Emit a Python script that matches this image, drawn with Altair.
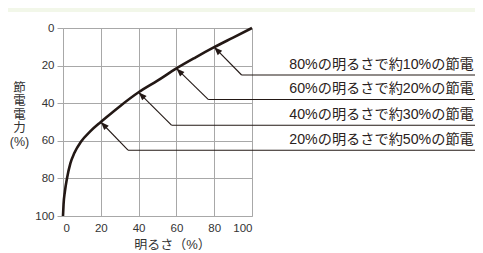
import math
import altair as alt
import pandas as pd

# curve: brightness (%) vs. power saving (%)
brightness = [0, 0.3, 1, 2.1, 3.9, 6, 9.5, 14.4, 20, 23.3, 30, 40, 50, 60, 70, 80, 90, 100]
saving = [100, 93.7, 87, 80, 72, 66.5, 60.5, 55, 50, 47.2, 41.7, 34.2, 28, 21.5, 15.7, 10.2, 5.1, 0]

# annotations
ann_x = [80, 60, 40, 20]
ann_y = [10.2, 21.5, 34.2, 50]
elbow_x = [94.5, 76.8, 57.4, 34.4]
elbow_y = [25, 38, 51.7, 65]
line_end_x = 220
labels = [
    "80%の明るさで約10%の節電",
    "60%の明るさで約20%の節電",
    "40%の明るさで約30%の節電",
    "20%の明るさで約50%の節電",
]
ticks = [0, 20, 40, 60, 80, 100]

W, H = 189, 188
FONT = "Liberation Sans, Noto Sans CJK JP"
INK = "#231815"
GRID = "#a8a8a8"

# arrow angles (screen space)
px_x, px_y = W / 100, H / 100
angles = []
for ax_, ay_, ex_, ey_ in zip(ann_x, ann_y, elbow_x, elbow_y):
    dx = (ax_ - ex_) * px_x
    dy = (ay_ - ey_) * px_y  # data y increases downward on screen (reversed)
    angles.append(math.degrees(math.atan2(dx, -dy)) % 360)

curve = pd.DataFrame({"x": brightness, "y": saving})
ann = pd.DataFrame({
    "x": ann_x, "y": ann_y, "ex": elbow_x, "ey": elbow_y,
    "end": [line_end_x] * 4, "label": labels, "angle": angles,
})

xs = alt.Scale(domain=[0, 100], nice=False)
ys = alt.Scale(domain=[0, 100], reverse=True, nice=False)

xaxis = alt.Axis(values=ticks, grid=True, gridColor=GRID, domainColor=GRID,
                 ticks=False, labelFont=FONT, labelFontSize=11.5, labelColor="#333",
                 labelPadding=6, labelOverlap=False, title="明るさ（%）", titleFont=FONT,
                 titleFontSize=13, titleFontWeight="normal", titleColor="#333",
                 titleX=109, titleY=32, titleBaseline="alphabetic", titleAlign="center")
yaxis = alt.Axis(values=ticks, grid=True, gridColor=GRID, domainColor=GRID,
                 tickColor=GRID, tickSize=6, labelFont=FONT, labelFontSize=11.5,
                 labelColor="#333", labelPadding=3, labelOverlap=False,
                 title=["節", "電", "電", "力", "(%)"], titleFont=FONT, titleFontSize=12.5,
                 titleFontWeight="normal", titleColor="#333", titleAngle=0,
                 titleAlign="center", titleBaseline="top", titleX=-44, titleY=53,
                 titleLineHeight=13.5)

X = lambda f: alt.X(f, scale=xs, axis=xaxis)
Y = lambda f: alt.Y(f, scale=ys, axis=yaxis)

base_curve = alt.Chart(curve).mark_line(color=INK, strokeWidth=2.6, interpolate="monotone").encode(
    x=X("x:Q"), y=Y("y:Q"),
)
diag = alt.Chart(ann).mark_rule(color=INK, strokeWidth=1.1).encode(
    x=X("x:Q"), y=Y("y:Q"), x2="ex:Q", y2="ey:Q",
)
horiz = alt.Chart(ann).mark_rule(color=INK, strokeWidth=1.1).encode(
    x=X("ex:Q"), y=Y("ey:Q"), x2="end:Q",
)
heads = alt.Chart(ann).mark_point(
    shape="M0,0L0.38,1L-0.38,1Z", filled=True, color=INK, opacity=1, size=270, strokeWidth=0
).encode(
    x=X("x:Q"), y=Y("y:Q"), angle=alt.Angle("angle:Q", scale=None),
)
text = alt.Chart(ann).mark_text(
    align="right", baseline="alphabetic", dx=-5, dy=-6, font=FONT, fontSize=14.2, color="#2a2220"
).encode(
    x=X("end:Q"), y=Y("ey:Q"), text="label:N",
)

band = alt.Chart(pd.DataFrame({"a": [0]})).mark_rect(color="#f2f7e9").encode(
    x=alt.value(-55), x2=alt.value(412), y=alt.value(-20), y2=alt.value(-16)
)

chart = alt.layer(base_curve, band, diag, horiz, heads, text).properties(
    width=W, height=H,
    autosize=alt.AutoSizeParams(type="none"),
    padding={"left": 55, "top": 20, "right": 223, "bottom": 34},
).configure_view(stroke=None)

chart.save("out.html", embed_options={"renderer": "svg", "actions": False})
